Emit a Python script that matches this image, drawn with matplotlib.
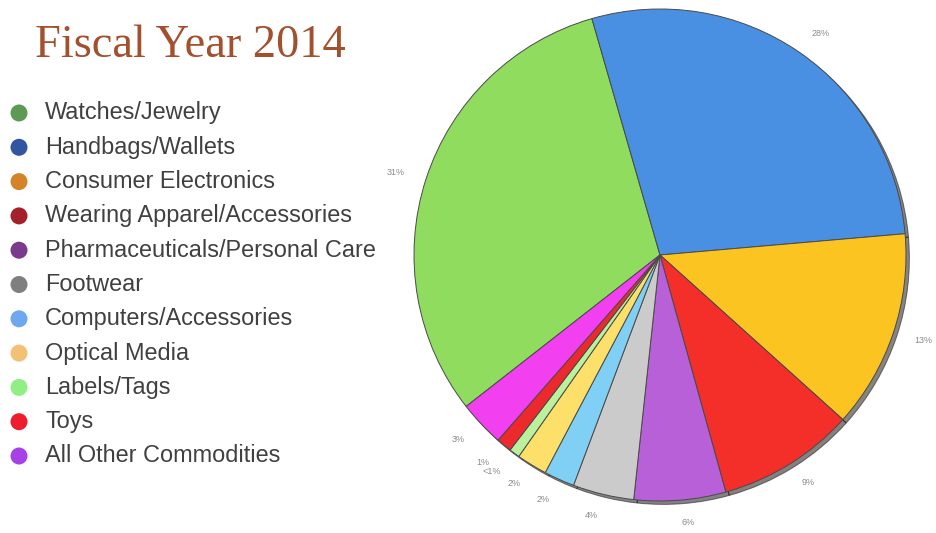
import matplotlib
matplotlib.use("Agg")
import matplotlib.pyplot as plt

# Seizure share by commodity, fiscal year 2014
categories = [
    "Watches/Jewelry",
    "Handbags/Wallets",
    "Consumer Electronics",
    "Wearing Apparel/Accessories",
    "Pharmaceuticals/Personal Care",
    "Footwear",
    "Computers/Accessories",
    "Optical Media",
    "Labels/Tags",
    "Toys",
    "All Other Commodities",
]
shares = [31, 28, 13, 9, 6, 4, 2, 2, 0.7, 1, 3]

slice_colors = ["#8fdc5e", "#4a90e2", "#fcc420", "#f42f2a", "#b860d8", "#cbcbcb",
                "#80d0f6", "#fde06a", "#bbf09c", "#ec2a2e", "#f23ff0"]
legend_colors = ["#5d9a55", "#2f569e", "#d38428", "#a4202a", "#7a3b8c", "#7f7f7f",
                 "#6fa8ee", "#f3c176", "#90ee85", "#ee1c2c", "#a641e6"]


def pct_text(v):
    return "<1%" if v < 1 else f"{v:g}%"


W, H = 936, 533
fig = plt.figure(figsize=(W / 100, H / 100), dpi=100)
fig.patch.set_facecolor("white")

# Title
fig.text(35 / W, 1 - 57 / H, "Fiscal Year 2014", family="Liberation Serif",
         fontsize=33.5, color="#a3502f", va="baseline", ha="left")

# Legend column
leg = fig.add_axes([0, 0, 0.42, 1])
leg.set_xlim(0, 0.42 * W)
leg.set_ylim(H, 0)
leg.axis("off")
rows = [113 + 34.3 * i for i in range(len(categories))]
leg.scatter([19] * len(categories), rows, s=150, c=legend_colors, linewidths=0)
for y, name in zip(rows, categories):
    leg.text(45, y, name, family="Liberation Sans", fontsize=16.9,
             color="#404040", va="center", ha="left")

# Pie
cx, cy, r = 660, 255, 246
ax = fig.add_axes([(cx - r) / W, (H - cy - r) / H, 2 * r / W, 2 * r / H])
wedges, texts = ax.pie(
    shares,
    colors=slice_colors,
    labels=[pct_text(v) for v in shares],
    startangle=218,
    counterclock=False,
    labeldistance=1.09,
    radius=1,
    shadow={"ox": 0.01, "oy": -0.01, "shade": 0.95},
    wedgeprops={"edgecolor": "#4a4a4a", "linewidth": 0.7},
    textprops={"fontsize": 6.5, "color": "#8a8a8a", "family": "Liberation Sans"},
)
ax.set_xlim(-1, 1)
ax.set_ylim(-1, 1)
ax.set_aspect("equal")
ax.axis("off")

fig.savefig("out.png", dpi=100, facecolor="white")
